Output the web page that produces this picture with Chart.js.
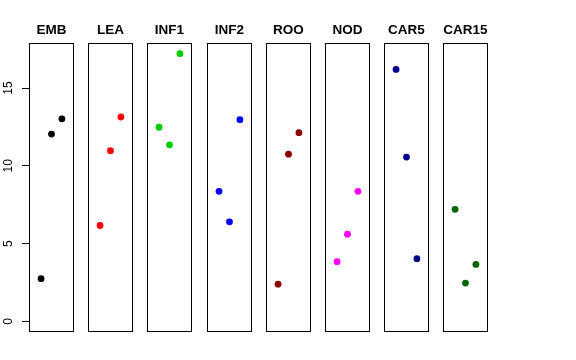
<!DOCTYPE html>
<html>
<head>
<meta charset="utf-8">
<script src="https://cdn.jsdelivr.net/npm/chart.js@4"></script>
<style>
  body { margin: 0; background: #fff; }
  #wrap { position: relative; width: 576px; height: 360px; }
  #wrap canvas { position: absolute; top: 0; }
</style>
</head>
<body>
<div id="wrap"></div>
<script>
const panels = ["EMB", "LEA", "INF1", "INF2", "ROO", "NOD", "CAR5", "CAR15"];
const colors = ["#000000", "#ff0000", "#00cd00", "#0000ff", "#8b0000", "#ff00ff", "#00008b", "#006400"];
const positions = [1, 2, 3];
const EMB = [2.74, 12.04, 13.02];
const LEA = [6.16, 10.97, 13.14];
const INF1 = [12.48, 11.35, 17.21];
const INF2 = [8.36, 6.40, 12.97];
const ROO = [2.39, 10.75, 12.13];
const NOD = [3.83, 5.60, 8.36];
const CAR5 = [16.2, 10.56, 4.03];
const CAR15 = [7.20, 2.46, 3.66];
const yTicks = [0, 5, 10, 15];

const series = [EMB, LEA, INF1, INF2, ROO, NOD, CAR5, CAR15];
const yTop = Math.max(...series.flat());
const yMin = -0.04 * yTop, yMax = yTop * 1.04;
const font = "'Liberation Sans', Arial, Helvetica, sans-serif";

// box around each panel + its title
const boxPlugin = {
  id: "box",
  afterDraw(chart) {
    const a = chart.chartArea, ctx = chart.ctx;
    ctx.save();
    ctx.strokeStyle = "#000";
    ctx.lineWidth = 1;
    ctx.strokeRect(a.left + 0.5, a.top + 0.5, a.width - 1, a.height - 1);
    ctx.fillStyle = "#000";
    ctx.font = "bold 13.5px " + font;
    ctx.textAlign = "center";
    ctx.textBaseline = "middle";
    ctx.fillText(chart.data.datasets[0].label, (a.left + a.right) / 2, 30.5);
    ctx.restore();
  }
};

// R style rotated tick labels on the left axis
const yLabels = {
  id: "yLabels",
  afterDraw(chart) {
    const s = chart.scales.y;
    if (!s.options.display) return;
    const ctx = chart.ctx;
    ctx.save();
    ctx.fillStyle = "#000";
    ctx.font = "12px " + font;
    ctx.textAlign = "center";
    ctx.textBaseline = "middle";
    yTicks.forEach(v => {
      ctx.save();
      ctx.translate(9, s.getPixelForValue(v));
      ctx.rotate(-Math.PI / 2);
      ctx.fillText(String(v), 0, 0);
      ctx.restore();
    });
    ctx.restore();
  }
};

const wrap = document.getElementById("wrap");
panels.forEach((name, i) => {
  const first = i === 0;
  const left = Math.round(29 + 59.2 * i);
  const off = first ? 29 : 0;
  const cv = document.createElement("canvas");
  cv.width = 45 + off;
  cv.height = 332;
  cv.style.left = (left - off) + "px";
  wrap.appendChild(cv);

  new Chart(cv, {
    type: "scatter",
    data: {
      datasets: [{
        label: name,
        data: positions.map((x, k) => ({ x: x, y: series[i][k] })),
        backgroundColor: colors[i],
        borderColor: colors[i],
        pointRadius: 3.4,
        pointBorderWidth: 0,
      }],
    },
    options: {
      responsive: false,
      animation: false,
      events: [],
      layout: { autoPadding: false, padding: { left: 0, right: 0, top: 43, bottom: 0 } },
      scales: {
        x: { display: false, min: -0.16, max: 4.16 },
        y: {
          display: first,
          min: yMin,
          max: yMax,
          afterBuildTicks: s => { s.ticks = yTicks.map(v => ({ value: v })); },
          afterFit: s => {
            if (!first) return;
            s.width = 29; s.paddingTop = 0; s.paddingBottom = 0;
          },
          grid: { drawOnChartArea: false, drawTicks: true, tickLength: 7, color: "#000", tickColor: "#000" },
          border: { display: false },
          ticks: { color: "rgba(0,0,0,0)", padding: 2, font: { size: 12 } },
        },
      },
      plugins: {
        legend: { display: false },
        tooltip: { enabled: false },
        title: { display: false },
      },
    },
    plugins: [boxPlugin, yLabels],
  });
});
</script>
</body>
</html>
